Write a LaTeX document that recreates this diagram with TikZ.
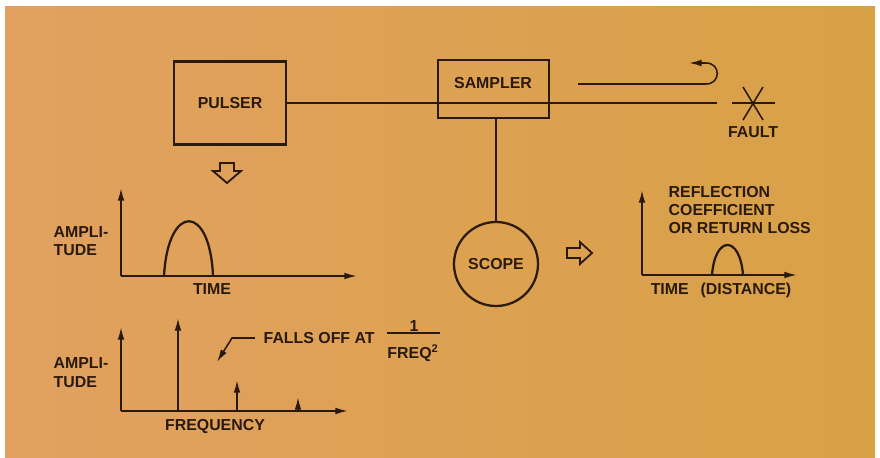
\documentclass[tikz,border=0pt]{standalone}
\usepackage{fontspec}
\setmainfont{Liberation Sans}
\usetikzlibrary{arrows.meta,positioning}
\definecolor{ink}{HTML}{2A190D}
\definecolor{paperL}{HTML}{E2A160}
\definecolor{paperR}{HTML}{D8A146}

\begin{document}
\begin{tikzpicture}[x=0.025cm,y=-0.025cm,>={Latex[length=9pt,width=4.8pt]},
box/.style={draw=ink,line width=1.6pt,inner sep=0pt},
ln/.style={draw=ink,line width=1.1pt},
ax/.style={draw=ink,line width=1.3pt,->},
hol/.style={draw=ink,line width=1.3pt,line join=miter},
lab/.style={text=ink,font=\fontsize{11.3}{13}\selectfont\bfseries,inner sep=1pt,align=left}]
\useasboundingbox (0,0) rectangle (880,458);
\fill[white] (0,0) rectangle (880,458);
\shade[left color=paperL,right color=paperR] (5,7) rectangle (875,457);
% blocks on the line
\node[box,lab,minimum width=2.8cm,minimum height=2.075cm] (pulser) at (230,103) {PULSER};
\node[box,minimum width=2.775cm,minimum height=1.45cm] (sampler) at (493.5,89) {};
\node[lab] (samplerlab) at (493,83) {SAMPLER};
\node[box,lab,circle,minimum size=2.1cm] (scope) at (496,264) {SCOPE};
\coordinate (lineend) at (717,103);
\draw[ln] (pulser.east) -- (lineend);
\draw[ln] (scope.north) -- (scope.north |- sampler.south);
% reflected pulse
\coordinate (ret0) at (578,84);
\coordinate (ret1) at (706,84);
\coordinate (ret2) at (706,63);
\coordinate (ret3) at (689,63);
\draw[ln,->] (ret0) -- (ret1) .. controls (721,84) and (721,63) .. (ret2) -- (ret3);
% fault
\draw[ln] (732,103) -- (775,103);
\draw[ln] (743,87) -- (763,120) (763,87) -- (743,120);
\node[lab] (faultlab) at (753,132) {FAULT};
% hollow arrows
\draw[hol] (220,163) -- (234,163) -- (234,171) -- (241,171) -- (227,183) -- (213,171) -- (220,171) -- cycle;
\draw[hol] (567,248) -- (580,248) -- (580,242) -- (592,253) -- (580,264) -- (580,258) -- (567,258) -- cycle;
% time domain
\draw[ax] (121,276) -- (121,188);
\draw[ax] (121,276) -- (357,276);
\draw[ln,line width=1.6pt] (164,276) .. controls (168,203) and (210,203) .. (213,276);
\node[lab,anchor=west] (amp1) at (52,241) {AMPLI-\\TUDE};
\node[lab] (timelab) at (212,289) {TIME};
% frequency domain
\draw[ax] (121,411) -- (121,327);
\draw[ax] (121,411) -- (348,411);
\foreach \x/\h in {178/318,237/380,298/397}{\draw[ax] (\x,411) -- (\x,\h);}
\node[lab,anchor=west] (amp2) at (52,372.5) {AMPLI-\\TUDE};
\node[lab] (freqlab) at (215,427) {FREQUENCY};
\node[lab,anchor=west] (falls) at (262,338) {FALLS OFF AT};
\node[lab] (num) at (414,326) {1};
\node[lab] (den) at (413,353) {FREQ\textsuperscript{2}};
\draw[ln] (387,333) -- (440,333);
\draw[ln,->] ([xshift=-5pt]falls.west) -- (232,338) -- (217,362);
% reflection trace
\draw[ax] (642,275) -- (642,190);
\draw[ax] (642,275) -- (797,275);
\draw[ln,line width=1.6pt] (712,275) .. controls (715,235) and (740,235) .. (743,275);
\node[lab,anchor=west] (refl) at (667,210) {REFLECTION\\COEFFICIENT\\OR RETURN LOSS};
\node[lab] (tdlab) at (721,290) {TIME\hspace{0.75em}(DISTANCE)};
\end{tikzpicture}
\end{document}
